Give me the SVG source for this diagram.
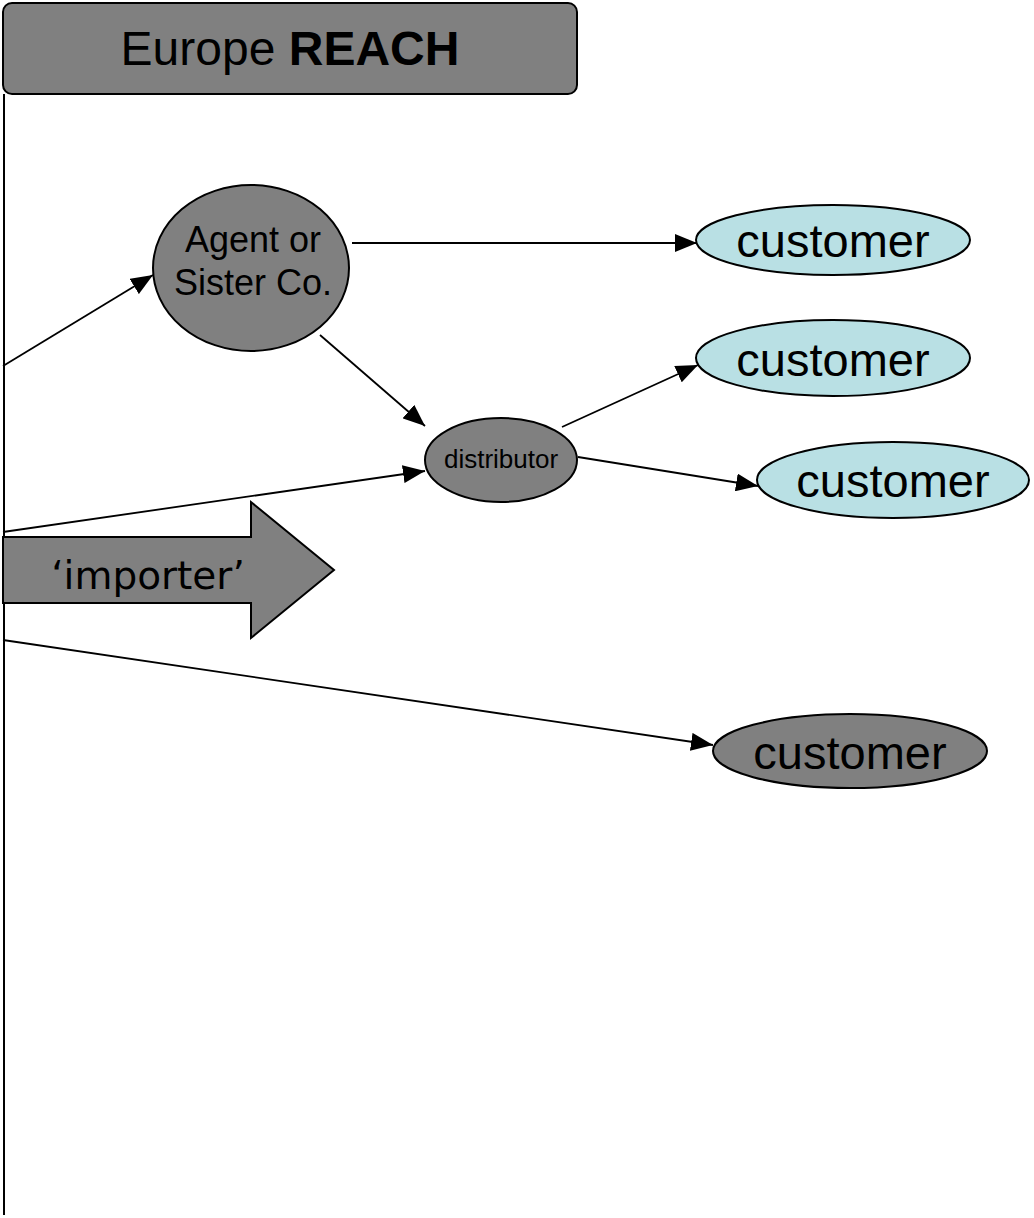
<svg xmlns="http://www.w3.org/2000/svg" width="1034" height="1218" viewBox="0 0 1034 1218">
<style>
.gray{fill:#808080;stroke:#000;stroke-width:2}
.blue{fill:#b9e0e4;stroke:#000;stroke-width:2}
.t{font-family:"Liberation Sans",Arial,sans-serif;fill:#000;text-anchor:middle}
.c{stroke:#000;stroke-width:1.8;fill:none;marker-end:url(#ah)}
</style>
<defs>
<marker id="ah" markerUnits="userSpaceOnUse" viewBox="0 0 22 18" refX="22" refY="9" markerWidth="22" markerHeight="18" orient="auto">
<path d="M0,0 L22,9 L0,18 Z" fill="#000"/>
</marker>
</defs>
<rect width="1034" height="1218" fill="#fff"/>
<g id="frame">
<line x1="4" y1="94" x2="4" y2="1215" stroke="#000" stroke-width="2"/>
</g>
<g id="title">
<rect x="3" y="3" width="574" height="91" rx="9" class="gray"/>
<text class="t" x="290" y="65" font-size="48">Europe <tspan font-weight="bold">REACH</tspan></text>
</g>
<g id="importer">
<polygon points="3,537 251,537 251,502 334,570 251,638 251,603 3,603" class="gray"/>
<text x="148" y="589" font-size="39" text-anchor="middle" font-family="DejaVu Sans,sans-serif">‘importer’</text>
</g>
<g id="connectors">
<line class="c" x1="3" y1="366" x2="153" y2="275"/>
<line class="c" x1="352" y1="243" x2="697" y2="243"/>
<line class="c" x1="320" y1="335" x2="425" y2="426"/>
<line class="c" x1="562" y1="427" x2="698" y2="365"/>
<line class="c" x1="578" y1="457" x2="758" y2="486"/>
<line class="c" x1="3" y1="532" x2="425" y2="471"/>
<line class="c" x1="3" y1="640" x2="713" y2="745"/>
</g>
<g id="agent">
<ellipse cx="251" cy="268" rx="98" ry="83" class="gray"/>
<text class="t" x="253" y="252" font-size="36">Agent or</text>
<text class="t" x="253" y="295" font-size="36">Sister Co.</text>
</g>
<g id="distributor">
<ellipse cx="501" cy="460" rx="76" ry="42" class="gray"/>
<text class="t" x="501" y="468" font-size="26">distributor</text>
</g>
<g id="customer1">
<ellipse cx="833" cy="240" rx="137" ry="35" class="blue"/>
<text class="t" x="833" y="257" font-size="47">customer</text>
</g>
<g id="customer2">
<ellipse cx="833" cy="358" rx="137" ry="38" class="blue"/>
<text class="t" x="833" y="376" font-size="47">customer</text>
</g>
<g id="customer3">
<ellipse cx="893" cy="480" rx="136" ry="38" class="blue"/>
<text class="t" x="893" y="497" font-size="47">customer</text>
</g>
<g id="customer4">
<ellipse cx="850" cy="751" rx="137" ry="37" class="gray"/>
<text class="t" x="850" y="769" font-size="47">customer</text>
</g>
</svg>
